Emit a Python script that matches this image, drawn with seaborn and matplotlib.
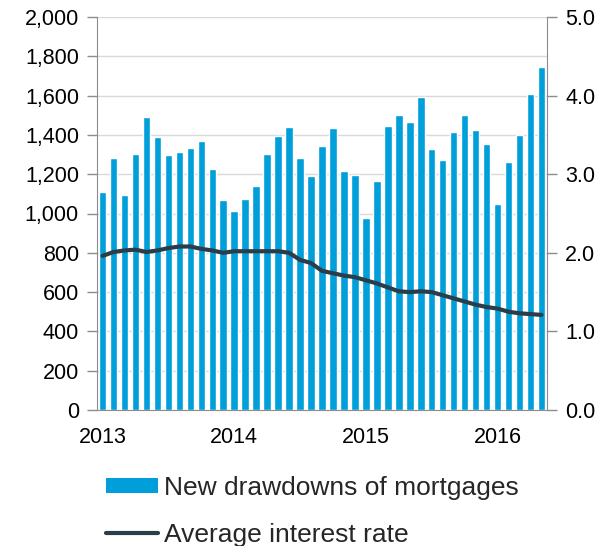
import pandas as pd
import numpy as np
import matplotlib.pyplot as plt
import seaborn as sns
from matplotlib.patches import Patch
from matplotlib.lines import Line2D

# monthly data, Jan 2013 - May 2016
months = pd.date_range('2013-01-01', periods=41, freq='MS')
drawdowns = [1108, 1282, 1093, 1301, 1493, 1388, 1298, 1313, 1335, 1369, 1225, 1069,
             1014, 1072, 1140, 1304, 1393, 1439, 1282, 1192, 1344, 1433, 1215, 1196,
             979, 1167, 1445, 1503, 1466, 1593, 1330, 1271, 1415, 1503, 1425, 1355,
             1050, 1261, 1399, 1608, 1747]
rate = [1.96, 2.01, 2.03, 2.04, 2.01, 2.03, 2.06, 2.08, 2.08, 2.05, 2.03, 2.00,
        2.02, 2.02, 2.02, 2.02, 2.02, 2.00, 1.91, 1.87, 1.77, 1.74, 1.71, 1.69,
        1.65, 1.61, 1.56, 1.51, 1.50, 1.51, 1.50, 1.46, 1.42, 1.38, 1.34, 1.31,
        1.29, 1.25, 1.23, 1.22, 1.21]
year_labels = ['2013', '2014', '2015', '2016']

df = pd.DataFrame({'idx': np.arange(len(months)), 'month': months,
                   'drawdowns': drawdowns, 'rate': rate})

sns.set_style("white")
plt.rcParams['font.family'] = ['Liberation Sans', 'DejaVu Sans']

bar_color = '#009FDA'
line_color = '#2B3D48'
grid_color = '#D9D9D9'
spine_color = '#8C8C8C'

fig = plt.figure(figsize=(6.08, 5.46), dpi=100)
ax = fig.add_axes([97 / 608, 136 / 546, 450 / 608, 393 / 546])

sns.barplot(data=df, x='idx', y='drawdowns', color=bar_color, width=0.68,
            saturation=1, ax=ax, zorder=2)
ax.set_xlim(-0.5, len(months) - 0.5)
ax.set_ylim(0, 2000)
ax.set_yticks(range(0, 2001, 200))
ax.set_yticklabels([f'{v:,}' for v in range(0, 2001, 200)])
ax.set_xticks([0, 12, 24, 36])
ax.set_xticklabels(year_labels)
ax.set_xlabel('')
ax.set_ylabel('')
ax.yaxis.grid(True, color=grid_color, lw=1, zorder=0)
ax.set_axisbelow(True)

ax2 = ax.twinx()
sns.lineplot(data=df, x='idx', y='rate', color=line_color, lw=3, ax=ax2)
ax2.set_ylim(0, 5)
ax2.set_yticks(np.arange(0, 5.1, 1.0))
ax2.set_yticklabels([f'{v:.1f}' for v in np.arange(0, 5.1, 1.0)])
ax2.set_ylabel('')
ax2.set_xlim(-0.5, len(months) - 0.5)

for a in (ax, ax2):
    for s in a.spines.values():
        s.set_visible(False)
    a.tick_params(labelsize=15.5, colors='black', length=7, width=1)
ax.spines['left'].set_visible(True)
ax.spines['bottom'].set_visible(True)
ax2.spines['right'].set_visible(True)
for s in ('left', 'bottom'):
    ax.spines[s].set_color(spine_color)
ax2.spines['right'].set_color(spine_color)
ax.tick_params(axis='y', color=spine_color, length=7, pad=6)
ax2.tick_params(axis='y', color=spine_color, length=7, pad=6)
ax.tick_params(axis='x', length=0, pad=12)

handles = [Patch(facecolor=bar_color, edgecolor='none'),
           Line2D([], [], color=line_color, lw=3)]
fig.legend(handles, ['New drawdowns of mortgages', 'Average interest rate'],
           loc='upper left', bbox_to_anchor=(106 / 608, 0.128), frameon=False,
           fontsize=19, borderpad=0, handlelength=1.97, handleheight=0.5,
           handletextpad=0.23, labelspacing=0.85, borderaxespad=0)

fig.savefig('out.png', dpi=100)
